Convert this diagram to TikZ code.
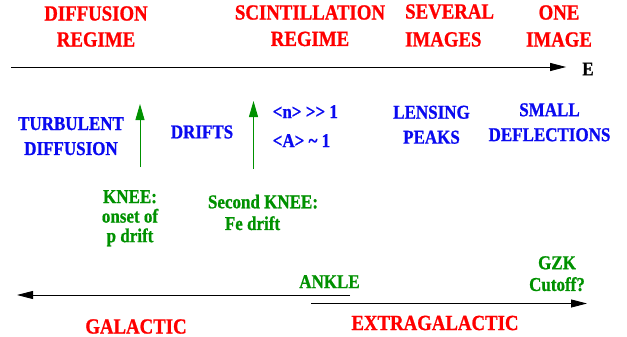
\documentclass[tikz,border=0pt]{standalone}
\usepackage{fontspec}
\setmainfont{Liberation Serif}[Ligatures=NoCommon, BoldFeatures={FakeBold=1}]
\usetikzlibrary{arrows.meta}
\definecolor{regred}{RGB}{255,0,0}
\definecolor{physblue}{RGB}{10,10,240}
\definecolor{markgreen}{RGB}{0,145,0}
\tikzset{
  txt/.style={inner sep=0pt, font=\bfseries, yscale=1.15, transform shape},
  redlabel/.style={txt, text=regred, font=\bfseries\fontsize{18.8}{22.6}\selectfont, align=center},
  bluelabel/.style={txt, text=physblue, font=\bfseries\fontsize{17}{21.7}\selectfont, align=center},
  greenlabel/.style={txt, text=markgreen, font=\bfseries\fontsize{17}{17}\selectfont, align=center},
  axisarrow/.style={line width=0.9pt, -{Triangle[length=16pt,width=8pt]}},
  kneearrow/.style={markgreen, line width=0.9pt, -{Triangle[length=16pt,width=9pt]}}
}
\begin{document}
\begin{tikzpicture}[x=1pt,y=-1pt]
\useasboundingbox (0,0) rectangle (627,337);

% propagation regimes above the energy axis
\node[redlabel, anchor=north] (diffreg) at (96,6) {DIFFUSION\\REGIME};
\node[redlabel, anchor=north, font=\bfseries\fontsize{18.8}{23}\selectfont] (scintreg) at (310,5) {SCINTILLATION\\REGIME};
\node[redlabel, anchor=north west, align=left, font=\bfseries\fontsize{18.8}{24.3}\selectfont] (several) at (405,4) {SEVERAL\\IMAGES};
\node[redlabel, anchor=north, font=\bfseries\fontsize{18.8}{23.5}\selectfont] (oneimg) at (559,5) {ONE\\IMAGE};

% energy axis
\node[txt, font=\bfseries\fontsize{17}{20}\selectfont, anchor=center] (E) at (588,69) {E};
\coordinate (axstart) at (11,67);
\draw[axisarrow] (axstart) -- ([xshift=-16pt]axstart -| E.west);

% physical picture below the axis
\node[bluelabel, anchor=north] (turb) at (71,117) {TURBULENT\\DIFFUSION};
\node[bluelabel, anchor=center] (drifts) at (202,132) {DRIFTS};
\node[bluelabel, anchor=north west, align=left, font=\bfseries\fontsize{17}{25.2}\selectfont] (nA) at (272.5,105) {<n> \textgreater{}\textgreater{} 1\\<A> \textasciitilde{} 1};
\node[bluelabel, anchor=north] (lensing) at (431.5,105.5) {LENSING\\PEAKS};
\node[bluelabel, anchor=north] (small) at (549.5,103) {SMALL\\DEFLECTIONS};

% knee markers
\coordinate (kneebot) at (140,167);
\coordinate (kneetop) at (140,104);
\draw[kneearrow] (kneebot) -- (kneetop);
\coordinate (knee2bot) at (253.5,169);
\coordinate (knee2top) at (253.5,101);
\draw[kneearrow] (knee2bot) -- (knee2top);

\node[greenlabel, anchor=north] (knee) at (130,190) {KNEE:\\onset of\\p drift};
\node[greenlabel, anchor=north] (knee2) at (263,194.5) {Second KNEE:};
\node[greenlabel, anchor=north] (fedrift) at (252.5,216) {Fe drift};

% galactic / extragalactic ranges
\node[greenlabel, anchor=north] (ankle) at (329.5,275) {ANKLE};
\node[greenlabel, anchor=north, font=\bfseries\fontsize{17}{18.9}\selectfont] (gzk) at (557,256) {GZK\\Cutoff?};

\coordinate (galend) at (350,295);
\coordinate (galtip) at (17,295);
\draw[axisarrow] (galend) -- (galtip);
\coordinate (exstart) at (311,303.5);
\coordinate (extip) at (587,303.5);
\draw[axisarrow] (exstart) -- (extip);

\node[redlabel, anchor=north] (galactic) at (136,319) {GALACTIC};
\node[redlabel, anchor=north] (extragal) at (435,315.5) {EXTRAGALACTIC};
\end{tikzpicture}
\end{document}
